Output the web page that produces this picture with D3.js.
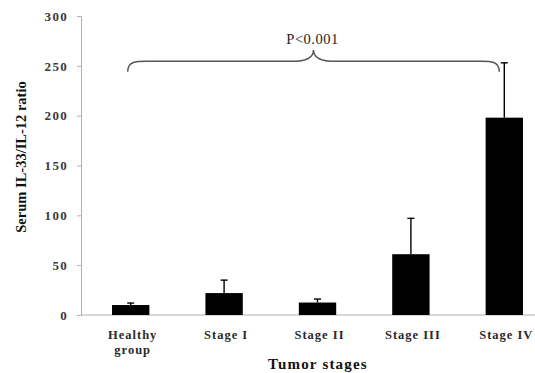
<!DOCTYPE html>
<html>
<head>
<meta charset="utf-8">
<script src="https://cdn.jsdelivr.net/npm/d3@7"></script>
<style>
  body { margin: 0; background: #fff; }
  svg { display: block; }
  text { font-family: "Liberation Serif", "DejaVu Serif", serif; }
</style>
</head>
<body>
<svg id="chart" width="535" height="373"></svg>
<script>
// tumor stage categories and the serum ratio means / SD
const stages = ['Healthy group', 'Stage I', 'Stage II', 'Stage III', 'Stage IV'];
const ratio = [10, 22, 12.5, 61, 198];
const ratioErr = [2, 13, 3.5, 36, 55];
const yTicks = [0, 50, 100, 150, 200, 250, 300];

const svg = d3.select('#chart');

let x = d3.scaleBand()
  .domain(stages)
  .range([84, 551])
  .padding(0);

let y = d3.scaleLinear()
  .domain([0, 300])
  .range([315, 16]);

const barW = x.bandwidth() * 0.4;

// y axis
let yAxis = svg.append('g')
  .attr('transform', 'translate(81,0)')
  .call(d3.axisLeft(y).tickValues(yTicks).tickSize(4).tickPadding(9));

yAxis.select('.domain').attr('stroke', '#b0b0b0').attr('stroke-width', 1);
yAxis.selectAll('.tick line').attr('stroke', '#b0b0b0');
yAxis.selectAll('.tick text')
  .attr('fill', '#3a3a3a')
  .style('font-family', '"Liberation Serif", serif')
  .style('font-weight', 'bold')
  .style('font-size', '13px')
  .style('letter-spacing', '1.3px');

// baseline
svg.append('line')
  .attr('x1', 81).attr('x2', 535)
  .attr('y1', y(0)).attr('y2', y(0))
  .attr('stroke', '#b0b0b0')
  .attr('stroke-width', 1.2);

let data = stages.map((s, i) => ({ stage: s, value: ratio[i], err: ratioErr[i] }));

// bars
svg.selectAll('.bar')
  .data(data)
  .enter().append('rect')
  .attr('class', 'bar')
  .attr('x', d => x(d.stage) + (x.bandwidth() - barW) / 2)
  .attr('y', d => y(d.value))
  .attr('width', barW)
  .attr('height', d => y(0) - y(d.value))
  .attr('fill', '#000');

// error bars (upper only)
let eb = svg.selectAll('.err')
  .data(data)
  .enter().append('g')
  .attr('class', 'err')
  .attr('stroke', '#000')
  .attr('stroke-width', 1.4);

eb.append('line')
  .attr('x1', d => x(d.stage) + x.bandwidth() / 2)
  .attr('x2', d => x(d.stage) + x.bandwidth() / 2)
  .attr('y1', d => y(d.value))
  .attr('y2', d => y(d.value + d.err));

eb.append('line')
  .attr('x1', d => x(d.stage) + x.bandwidth() / 2 - 3.5)
  .attr('x2', d => x(d.stage) + x.bandwidth() / 2 + 3.5)
  .attr('y1', d => y(d.value + d.err))
  .attr('y2', d => y(d.value + d.err));

// category labels
svg.selectAll('.cat')
  .data(stages)
  .enter().append('text')
  .attr('class', 'cat')
  .attr('text-anchor', 'middle')
  .attr('fill', '#2a2a2a')
  .style('font-weight', 'bold')
  .style('font-size', '12.5px')
  .style('letter-spacing', '1px')
  .each(function(d) {
    let parts = d === 'Healthy group' ? ['Healthy', 'group'] : [d];
    let t = d3.select(this);
    parts.forEach((p, k) => {
      t.append('tspan')
        .attr('x', x(d) + x.bandwidth() / 2 + 2)
        .attr('y', 339 + k * 15)
        .text(p);
    });
  });

// axis titles
svg.append('text')
  .attr('x', 318)
  .attr('y', 369)
  .attr('text-anchor', 'middle')
  .style('font-weight', 'bold')
  .style('font-size', '15px')
  .style('letter-spacing', '1.2px')
  .attr('fill', '#111')
  .text('Tumor stages');

svg.append('text')
  .attr('transform', 'translate(26,157)rotate(-90)')
  .attr('text-anchor', 'middle')
  .style('font-weight', 'bold')
  .style('font-size', '14.5px')
  .attr('fill', '#111')
  .text('Serum IL-33/IL-12 ratio');

// brace with p value
let bx0 = x(stages[0]) + x.bandwidth() / 2 - 3,
    bx1 = x(stages[4]) + x.bandwidth() / 2 - 5,
    bm = (bx0 + bx1) / 2,
    yEnd = y(244),
    yMid = y(254.5),
    yTip = y(266);

let brace = d3.path();
brace.moveTo(bx0, yEnd);
brace.bezierCurveTo(bx0, yMid - 1, bx0 + 10, yMid, bx0 + 22, yMid);
brace.lineTo(bm - 22, yMid);
brace.bezierCurveTo(bm - 8, yMid, bm, yMid - 3, bm, yTip);
brace.bezierCurveTo(bm, yMid - 3, bm + 8, yMid, bm + 22, yMid);
brace.lineTo(bx1 - 22, yMid);
brace.bezierCurveTo(bx1 - 10, yMid, bx1, yMid - 1, bx1, yEnd);

svg.append('path')
  .attr('d', brace.toString())
  .attr('fill', 'none')
  .attr('stroke', '#555')
  .attr('stroke-width', 1.5);

svg.append('text')
  .attr('x', bm - 1)
  .attr('y', 44)
  .attr('text-anchor', 'middle')
  .style('font-size', '14.5px')
  .style('letter-spacing', '0.5px')
  .attr('fill', '#222')
  .text('P<0.001');
</script>
</body>
</html>
